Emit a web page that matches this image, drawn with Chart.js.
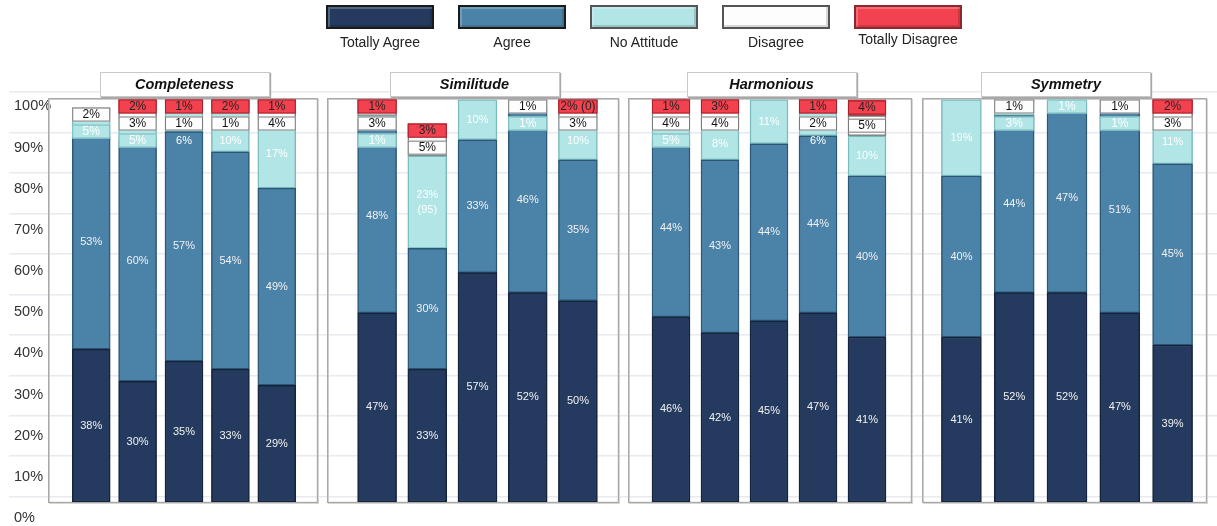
<!DOCTYPE html>
<html>
<head>
<meta charset="utf-8">
<title>Evaluation results</title>
<script src="https://cdn.jsdelivr.net/npm/chart.js@4.4.1/dist/chart.umd.min.js"></script>
<style>
  html, body { margin: 0; padding: 0; background: #fff; }
  body { width: 1217px; height: 526px; position: relative; overflow: hidden; font-family: "Liberation Sans", Arial, sans-serif; }
  #grid { position: absolute; left: 0; top: 0; }
  .panel { position: absolute; top: 98px; }
  .title { position: absolute; top: 72px; width: 168px; height: 23px; line-height: 23px; text-align: center;
           font-weight: bold; font-style: italic; font-size: 14.5px; color: #111; background: #fff;
           border: 1px solid #c8c8c8; box-shadow: 1px 1px 1px #a8a8a8; }
  #legend { position: absolute; left: 326px; top: 5px; display: flex; gap: 24px; }
  .item { width: 108px; text-align: center; font-size: 14px; color: #222; }
  .swatch { box-sizing: border-box; width: 108px; height: 24px; border: 2px solid #333;
            box-shadow: inset 2px 2px 0 rgba(255,255,255,.22), inset -2px -2px 0 rgba(0,0,0,.15); }
  .item span { display: block; margin-top: 5px; }
</style>
</head>
<body>
<canvas id="grid" width="1217" height="540"></canvas>
<div id="legend"></div>

<script>
// survey answers, one array per answer, one row per dimension, one value per item
const dimensions = ['Completeness', 'Similitude', 'Harmonious', 'Symmetry'];
const answers = ['Totally Agree', 'Agree', 'No Attitude', 'Disagree', 'Totally Disagree'];
const items = ['1', '2', '3', '4', '5'];

const totallyAgree = [[38, 30, 35, 33, 29], [47, 33, 57, 52, 50], [46, 42, 45, 47, 41], [41, 52, 52, 47, 39]];
const agree = [[53, 60, 57, 54, 49], [48, 30, 33, 46, 35], [44, 43, 44, 44, 40], [40, 44, 47, 51, 45]];
const noAttitude = [[5, 5, 6, 10, 17], [1, 23, 10, 1, 10], [5, 8, 11, 6, 10], [19, 3, 1, 1, 11]];
const disagree = [[2, 3, 1, 1, 4], [3, 5, 0, 1, 3], [4, 4, 0, 2, 5], [0, 1, 0, 1, 3]];
const totallyDisagree = [[0, 2, 1, 2, 1], [1, 3, 0, 0, 2], [1, 3, 0, 1, 4], [0, 0, 0, 0, 2]];

// extra text printed next to a few percentages: [dimension, item, answer, text]
const notes = [[1, 1, 2, '(95)'], [1, 4, 4, '(0)']];

const percentTicks = [0, 10, 20, 30, 40, 50, 60, 70, 80, 90, 100];

const byAnswer = [totallyAgree, agree, noAttitude, disagree, totallyDisagree];
const fills = ['#243a5e', '#4a82a8', '#b1e5e6', '#fdfdfd', '#f2424f'];
const edges = ['#15233b', '#2b5776', '#7bbabd', '#7a7a7a', '#a5212c'];
const inks = ['#f2f2f2', '#f2f2f2', '#ffffff', '#111111', '#222222'];

// panel placement
const panels = [
  { left: 48, width: 271, padL: 20, padR: 19, bar: 38 },
  { left: 327, width: 293, padL: 25, padR: 17, bar: 39 },
  { left: 628, width: 285, padL: 18.5, padR: 21.5, bar: 38 },
  { left: 922, width: 286, padL: 13, padR: 9, bar: 40 }
];

// legend: big swatch with the name underneath
const legend = document.getElementById('legend');
answers.forEach((name, s) => {
  const item = document.createElement('div');
  item.className = 'item';
  const sw = document.createElement('div');
  sw.className = 'swatch';
  sw.style.background = fills[s];
  sw.style.borderColor = s === 4 ? '#8a2a30' : (s >= 2 ? '#555' : '#1a1a1a');
  const label = document.createElement('span');
  label.textContent = name;
  if (s === 4) label.style.marginTop = '2px';
  item.appendChild(sw);
  item.appendChild(label);
  legend.appendChild(item);
});

// background: percent labels and light grid across the whole width
new Chart(document.getElementById('grid'), {
  type: 'bar',
  data: { labels: [], datasets: [] },
  options: {
    responsive: false,
    animation: false,
    layout: { padding: { top: 92, bottom: 22, left: 0, right: 0 } },
    plugins: { legend: { display: false }, tooltip: { enabled: false } },
    scales: {
      x: { display: false },
      y: {
        position: 'left', min: 0, max: 103.5,
        afterBuildTicks: axis => { axis.ticks = percentTicks.map(v => ({ value: v })); },
        ticks: { mirror: true, padding: 4.67, color: '#333', font: { family: 'Liberation Sans', size: 14.5 },
                 callback: v => v + '%' },
        grid: { display: false, drawTicks: false },
        border: { display: false }
      },
      yg: {
        position: 'left', min: -5.26, max: 100,
        afterBuildTicks: axis => { axis.ticks = percentTicks.map(v => ({ value: v })); },
        ticks: { display: false },
        grid: { color: '#e9e9f0', lineWidth: 1.5, drawTicks: false },
        border: { display: false }
      }
    }
  }
});

const frame = {
  id: 'frame',
  beforeDraw(chart) {
    const { ctx, width, height } = chart;
    ctx.save();
    ctx.strokeStyle = '#d6d6d6';
    ctx.lineWidth = 1;
    ctx.strokeRect(1.5, 1.5, width - 2, height - 2);
    ctx.strokeStyle = '#a9a9a9';
    ctx.lineWidth = 1.2;
    ctx.strokeRect(0.6, 0.6, width - 2.2, height - 2.2);
    ctx.restore();
  }
};

// percentages: inside the segment when it is tall enough, otherwise in a small box stacked from the top
const segmentLabels = {
  id: 'segmentLabels',
  afterDatasetsDraw(chart, args, opts) {
    const ctx = chart.ctx;
    ctx.save();
    ctx.textAlign = 'center';
    ctx.textBaseline = 'middle';
    chart.data.labels.forEach((_, i) => {
      let stackTop = null;
      let floor = -Infinity;
      for (let s = chart.data.datasets.length - 1; s >= 0; s--) {
        const v = chart.data.datasets[s].data[i];
        if (!v) continue;
        const bar = chart.getDatasetMeta(s).data[i];
        const top = bar.y, bottom = bar.base, h = bottom - top;
        if (stackTop === null) stackTop = top;
        const note = notes.find(n => n[0] === opts.panel && n[1] === i && n[2] === s);
        ctx.fillStyle = inks[s];
        if (h >= 22) {
          const lines = note ? [v + '%', note[3]] : [v + '%'];
          const cy = Math.max((top + bottom) / 2, floor + 10);
          ctx.font = '11px "Liberation Sans"';
          lines.forEach((t, k) => ctx.fillText(t, bar.x, cy + (k - (lines.length - 1) / 2) * 15));
        } else {
          const bt = Math.max((top + bottom) / 2 - 7, stackTop, floor + 3);
          const bx = bar.x - bar.width / 2;
          ctx.fillStyle = fills[s];
          ctx.fillRect(bx, bt, bar.width, 14);
          ctx.strokeStyle = edges[s];
          ctx.lineWidth = 1;
          ctx.strokeRect(bx + 0.5, bt + 0.5, bar.width - 1, 13);
          ctx.fillStyle = inks[s];
          ctx.font = '12px "Liberation Sans"';
          ctx.fillText(note ? v + '% ' + note[3] : v + '%', bar.x, bt + 7.5);
          floor = bt + 14;
        }
      }
    });
    ctx.restore();
  }
};

dimensions.forEach((dim, p) => {
  const box = panels[p];
  const canvas = document.createElement('canvas');
  canvas.className = 'panel';
  canvas.width = box.width;
  canvas.height = 406;
  canvas.style.left = box.left + 'px';
  document.body.appendChild(canvas);

  const title = document.createElement('div');
  title.className = 'title';
  title.textContent = dim;
  title.style.left = (box.left + box.width / 2 - 84) + 'px';
  document.body.appendChild(title);

  new Chart(canvas, {
    type: 'bar',
    data: {
      labels: items,
      datasets: answers.map((name, s) => ({
        label: name,
        data: byAnswer[s][p],
        backgroundColor: fills[s],
        borderColor: edges[s],
        borderWidth: 1.5,
        borderSkipped: false,
        barThickness: box.bar
      }))
    },
    options: {
      responsive: false,
      animation: false,
      layout: { padding: { top: 1.5, bottom: 2, left: box.padL, right: box.padR } },
      plugins: {
        legend: { display: false },
        tooltip: { enabled: false },
        segmentLabels: { panel: p }
      },
      scales: {
        x: { stacked: true, display: false },
        y: { stacked: true, display: false, min: 0, max: 100 }
      }
    },
    plugins: [frame, segmentLabels]
  });
});
</script>
</body>
</html>
